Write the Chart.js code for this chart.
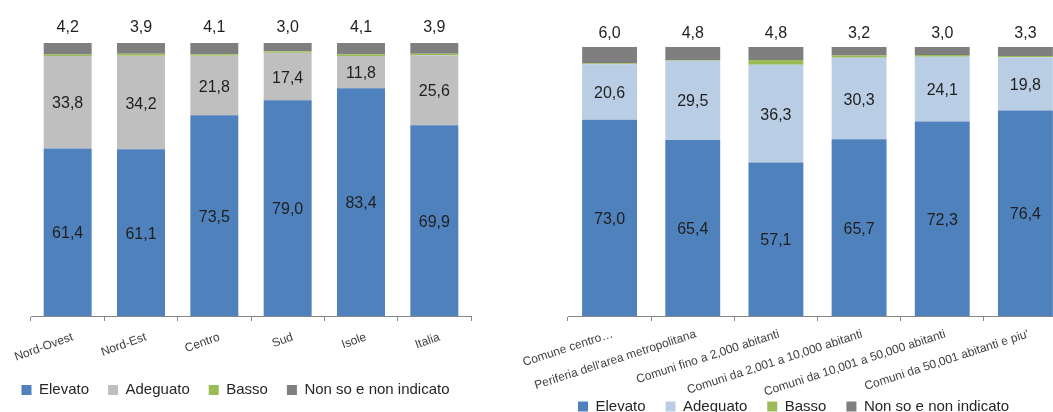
<!DOCTYPE html>
<html>
<head>
<meta charset="utf-8">
<script src="https://cdn.jsdelivr.net/npm/chart.js@4/dist/chart.umd.min.js"></script>
<style>
  html, body { margin: 0; padding: 0; background: #fff; overflow: hidden; width: 1053px; height: 412px; }
  #boxRipartizioni { position: absolute; left: 0; top: 0; width: 472px; height: 412px; }
  #boxComuni { position: absolute; left: 520px; top: 0; width: 548px; height: 412px; }
</style>
</head>
<body>
<div id="boxRipartizioni"><canvas id="chartRipartizioni"></canvas></div>
<div id="boxComuni"><canvas id="chartComuni"></canvas></div>
<script>
// Ripartizioni geografiche
const ripartizioni = ['Nord-Ovest', 'Nord-Est', 'Centro', 'Sud', 'Isole', 'Italia'];
const ripElevato = [61.4, 61.1, 73.5, 79.0, 83.4, 69.9];
const ripAdeguato = [33.8, 34.2, 21.8, 17.4, 11.8, 25.6];
const ripBasso = [0.6, 0.8, 0.6, 0.6, 0.7, 0.6];
const ripNonSo = [4.2, 3.9, 4.1, 3.0, 4.1, 3.9];

// Tipologia di comune
const tipiComune = ['Comune centro…', "Periferia dell'area metropolitana", 'Comuni fino a 2,000 abitanti',
    'Comuni da 2,001 a 10,000 abitanti', 'Comuni da 10,001 a 50,000 abitanti', "Comuni da 50,001 abitanti e piu'"];
const comElevato = [73.0, 65.4, 57.1, 65.7, 72.3, 76.4];
const comAdeguato = [20.6, 29.5, 36.3, 30.3, 24.1, 19.8];
const comBasso = [0.4, 0.3, 1.8, 0.8, 0.6, 0.5];
const comNonSo = [6.0, 4.8, 4.8, 3.2, 3.0, 3.3];

const serieNomi = ['Elevato', 'Adeguato', 'Basso', 'Non so e non indicato'];
const FONT = '"Liberation Sans", Arial, sans-serif';

function formatta(v) {
    return v.toFixed(1).replace('.', ',');
}

// etichette: valori al centro dei segmenti, "non so" sopra la barra
const etichette = {
    id: 'etichette',
    afterDatasetsDraw(chart, args, opts) {
        const ctx = chart.ctx;
        ctx.save();
        ctx.font = '16px ' + FONT;
        ctx.fillStyle = '#1f1f1f';
        ctx.textAlign = 'center';
        ctx.textBaseline = 'alphabetic';
        chart.data.datasets.forEach((ds, i) => {
            if (i === 2) return;
            chart.getDatasetMeta(i).data.forEach((bar, j) => {
                const testo = formatta(ds.data[j]);
                if (i === 3) {
                    ctx.fillText(testo, bar.x, bar.y - opts.sopra);
                } else {
                    ctx.fillText(testo, bar.x, (bar.y + bar.base) / 2 + 6);
                }
            });
        });
        ctx.restore();
    }
};

// sposta la legenda alla quota voluta (centro della riga)
const posLegenda = {
    id: 'posLegenda',
    afterLayout(chart, args, opts) {
        const lg = chart.legend;
        if (!lg) return;
        const attuale = lg.top + lg.options.labels.padding + 7.5;
        lg.top += opts.centro - attuale;
        lg.bottom = lg.top + 60;
    }
};

function creaGrafico(id, labels, serie, colori, opz) {
    const ctx = document.getElementById(id).getContext('2d');
    return new Chart(ctx, {
        type: 'bar',
        data: {
            labels: labels,
            datasets: serie.map((valori, i) => ({
                label: serieNomi[i],
                data: valori,
                backgroundColor: colori[i],
                borderWidth: 0,
                categoryPercentage: 1,
                barPercentage: opz.barPct
            }))
        },
        options: {
            responsive: true,
            maintainAspectRatio: false,
            animation: false,
            layout: {
                padding: { left: 0, right: 1, top: opz.padTop, bottom: 0 }
            },
            plugins: {
                tooltip: { enabled: false },
                etichette: { sopra: opz.sopra },
                posLegenda: { centro: opz.centroLegenda },
                legend: {
                    position: 'bottom',
                    maxHeight: 14,
                    labels: {
                        boxWidth: 10,
                        boxHeight: 10,
                        padding: opz.padLegenda,
                        color: '#262626',
                        font: { family: FONT, size: 15 }
                    }
                }
            },
            scales: {
                x: {
                    stacked: true,
                    grid: {
                        display: true,
                        drawOnChartArea: false,
                        drawTicks: true,
                        tickLength: 5,
                        color: '#868686'
                    },
                    border: { display: true, color: '#868686' },
                    ticks: {
                        autoSkip: false,
                        minRotation: opz.rotazione,
                        maxRotation: opz.rotazione,
                        padding: opz.distanzaEtichette,
                        labelOffset: opz.spostaEtichette,
                        color: '#404040',
                        font: { family: FONT, size: 12 }
                    },
                    afterFit: (scale) => {
                        // le etichette ruotate possono sporgere a sinistra
                        scale.height = 82;
                        scale.paddingLeft = 0;
                        scale.paddingRight = 0;
                    }
                },
                y: {
                    stacked: true,
                    min: 0,
                    max: 100,
                    grid: { display: false },
                    border: { display: false },
                    ticks: { display: false },
                    afterFit: (scale) => { scale.width = opz.spazioSinistra; }
                }
            }
        },
        plugins: [etichette, posLegenda]
    });
}

creaGrafico('chartRipartizioni', ripartizioni,
    [ripElevato, ripAdeguato, ripBasso, ripNonSo],
    ['#4F81BD', '#BFBFBF', '#9BBB59', '#7F7F7F'],
    { barPct: 0.654, padTop: 43, rotazione: 20, spazioSinistra: 31, distanzaEtichette: 9,
      spostaEtichette: 5, sopra: 11, padLegenda: 19, centroLegenda: 390 });

creaGrafico('chartComuni', tipiComune,
    [comElevato, comAdeguato, comBasso, comNonSo],
    ['#4F81BD', '#B9CDE5', '#9BBB59', '#7F7F7F'],
    { barPct: 0.66, padTop: 47, rotazione: 18, spazioSinistra: 48, distanzaEtichette: 6,
      spostaEtichette: 3, sopra: 9.5, padLegenda: 20, centroLegenda: 406.5 });
</script>
</body>
</html>
